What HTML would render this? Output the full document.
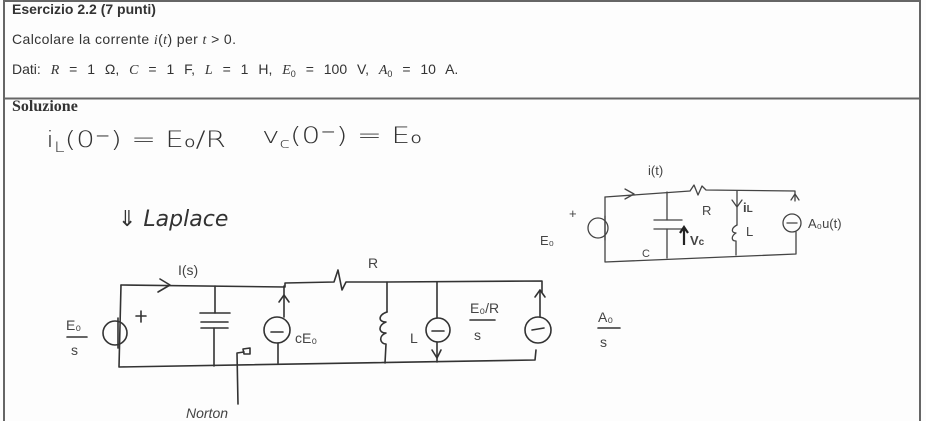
<!DOCTYPE html>
<html><head><meta charset="utf-8"><style>
html,body{margin:0;padding:0;background:#fdfdfd;}
svg{display:block;}
.t{font-family:"Liberation Sans",sans-serif;font-size:14px;fill:#333;}
.h{font-family:"DejaVu Sans","Liberation Sans",sans-serif;font-size:22px;fill:#333;font-weight:200;}
.hs{font-family:"Liberation Sans","DejaVu Sans",sans-serif;font-size:14px;fill:#444;}
</style></head><body>
<svg width="926" height="421" viewBox="0 0 926 421" xmlns="http://www.w3.org/2000/svg">
<rect x="0" y="0" width="926" height="421" fill="#fdfdfd"/>
<g stroke="#666" stroke-width="2" fill="none">
<line x1="3" y1="1" x2="921" y2="1"/>
<line x1="4" y1="0" x2="4" y2="421"/>
<line x1="920" y1="0" x2="920" y2="421"/>
<line x1="3" y1="98.5" x2="921" y2="98.5"/>
</g>
<text class="t" x="12" y="14" font-size="13" font-weight="bold">Esercizio 2.2 (7 punti)</text>
<text class="t" x="12" y="44" textLength="224" lengthAdjust="spacing">Calcolare la corrente <tspan font-family="Liberation Serif" font-style="italic">i</tspan>(<tspan font-family="Liberation Serif" font-style="italic">t</tspan>) per <tspan font-family="Liberation Serif" font-style="italic">t</tspan> &gt; 0.</text>
<text class="t" x="12" y="74" font-size="15" word-spacing="6">Dati: <tspan font-family="Liberation Serif" font-style="italic">R</tspan> = 1 Ω, <tspan font-family="Liberation Serif" font-style="italic">C</tspan> = 1 F, <tspan font-family="Liberation Serif" font-style="italic">L</tspan> = 1 H, <tspan font-family="Liberation Serif" font-style="italic">E</tspan><tspan font-size="9" dy="3">0</tspan><tspan dy="-3"> = 100 V, </tspan><tspan font-family="Liberation Serif" font-style="italic">A</tspan><tspan font-size="9" dy="3">0</tspan><tspan dy="-3"> = 10 A.</tspan></text>
<text x="12" y="111" font-family="Liberation Serif" font-weight="bold" font-size="16" fill="#333">Soluzione</text>

<text class="h" x="46" y="147" textLength="180" lengthAdjust="spacingAndGlyphs">i<tspan font-size="14" dy="5">L</tspan><tspan dy="-5">(0⁻) = E₀/R</tspan></text>
<text class="h" x="262" y="143" textLength="160" lengthAdjust="spacingAndGlyphs">v<tspan font-size="14" dy="5">c</tspan><tspan dy="-5">(0⁻) = E₀</tspan></text>
<text class="h" x="118" y="226" font-style="italic" font-size="26">⇓ Laplace</text>

<g stroke="#333" stroke-width="1.6" fill="none" stroke-linecap="round" stroke-linejoin="round">
<path d="M121,285 L285,287 L285,283 L334,282 L338,270 L342,290 L346,282 L387,282 L542,281 L542,292"/>
<path d="M160,279 L170,285 L158,292"/>
<path d="M121,285 L119,367 L535,360 L536,350"/>
<circle cx="115" cy="333" r="12"/>
<line x1="118" y1="318" x2="118" y2="348"/>
<line x1="136" y1="316" x2="146" y2="316"/><line x1="141" y1="311" x2="141" y2="322"/>
<line x1="215" y1="286" x2="215" y2="313"/>
<line x1="200" y1="313" x2="230" y2="313"/>
<line x1="201" y1="322" x2="228" y2="322"/>
<line x1="201" y1="328" x2="228" y2="328"/>
<line x1="214" y1="328" x2="214" y2="366"/>
<line x1="284" y1="286" x2="284" y2="317"/>
<path d="M279,302 L284,295 L289,302"/>
<circle cx="277" cy="330" r="13"/>
<line x1="271" y1="332" x2="283" y2="332"/>
<line x1="278" y1="343" x2="278" y2="363"/>
<line x1="387" y1="282" x2="387" y2="312"/>
<path d="M387,312 C378,315 378,322 386,322 C378,325 378,333 386,333 C378,336 380,344 386,344 L385,363"/>
<line x1="437" y1="282" x2="437" y2="318"/>
<circle cx="438" cy="330" r="12"/>
<line x1="432" y1="331" x2="444" y2="331"/>
<line x1="437" y1="342" x2="437" y2="362"/>
<path d="M432,350 L437,358 L441,350"/>
<circle cx="538" cy="330" r="13"/>
<line x1="532" y1="330" x2="544" y2="328"/>
<path d="M535,297 L540,290 L545,297"/>
<line x1="540" y1="290" x2="540" y2="317"/>
<path d="M238,404 L237,353 L244,352"/>
<path d="M243,349 L250,348 L250,354 L244,354 Z"/>
<line x1="470" y1="320" x2="495" y2="320"/>
<line x1="598" y1="328" x2="620" y2="328"/>
<line x1="67" y1="337" x2="87" y2="337"/>
</g>
<g class="hs" font-size="17">
<text x="178" y="275">I(s)</text>
<text x="368" y="268">R</text>
<text x="295" y="343">cE₀</text>
<text x="410" y="343">L</text>
<text x="470" y="313">E₀/R</text>
<text x="474" y="340">s</text>
<text x="598" y="322">A₀</text>
<text x="600" y="347">s</text>
<text x="66" y="330">E₀</text>
<text x="71" y="355">s</text>
<text x="186" y="418" font-style="italic">Norton</text>
</g>

<g stroke="#444" stroke-width="1.3" fill="none" stroke-linecap="round" stroke-linejoin="round">
<path d="M605,197 L690,191 L694,185 L698,195 L702,186 L706,190 L795,191 L795,201"/>
<path d="M625,189 L634,194 L625,199"/>
<path d="M605,197 L605,262 L796,254 L796,232"/>
<circle cx="598" cy="228" r="10"/>
<line x1="605" y1="216" x2="605" y2="240"/>
<line x1="667" y1="192" x2="667" y2="220"/>
<line x1="654" y1="220" x2="682" y2="220"/>
<line x1="654" y1="229" x2="682" y2="229"/>
<line x1="667" y1="229" x2="667" y2="258"/>
<line x1="737" y1="191" x2="737" y2="225"/>
<path d="M732,200 L737,207 L742,200"/>
<path d="M737,225 C731,228 731,233 736,233 C731,236 731,241 736,241 L736,255"/>
<circle cx="792" cy="223" r="9"/>
<line x1="787" y1="223" x2="797" y2="223"/>
<path d="M791,200 L795,194 L799,200"/>
</g>
<path d="M684,245 L684,228 M680,233 L684,227 L688,233" stroke="#222" stroke-width="2.2" fill="none"/>
<g font-family="Liberation Sans,sans-serif" font-size="13" fill="#444">
<text x="648" y="175">i(t)</text>
<text x="569" y="218">+</text>
<text x="540" y="245">E₀</text>
<text x="642" y="257" font-size="11">C</text>
<text x="690" y="245" font-weight="bold">V<tspan font-size="10">c</tspan></text>
<text x="702" y="215">R</text>
<text x="743" y="212" font-weight="bold">i<tspan font-size="10">L</tspan></text>
<text x="746" y="236">L</text>
<text x="808" y="228">A₀u(t)</text>
</g>
</svg>
</body></html>
